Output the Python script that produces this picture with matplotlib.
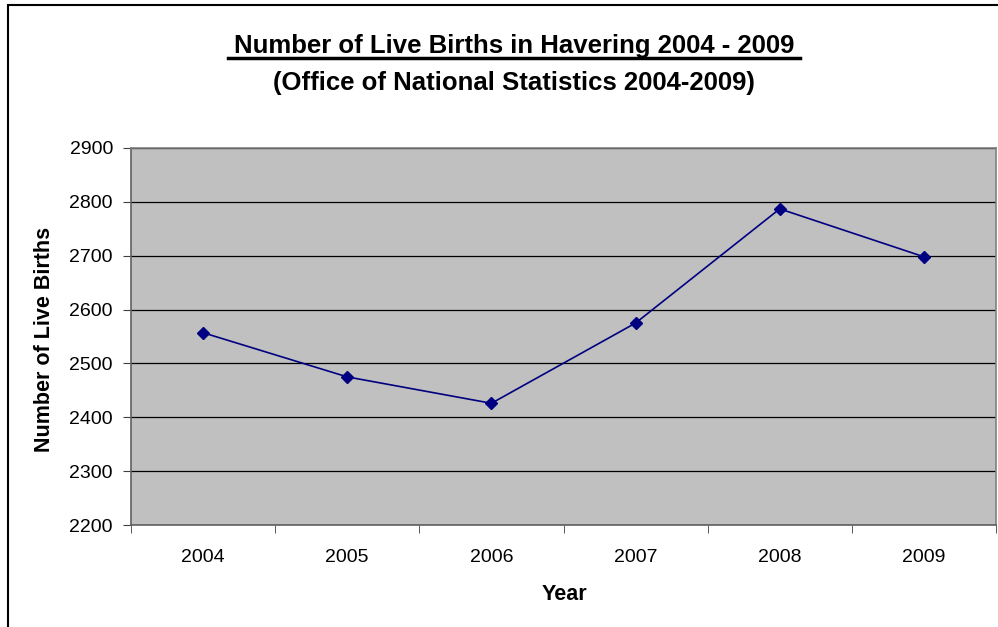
import numpy as np
import matplotlib.pyplot as plt
from matplotlib.patches import Rectangle

plt.rcParams['font.family'] = ['Liberation Sans', 'DejaVu Sans']

years = ['2004', '2005', '2006', '2007', '2008', '2009']
births = [2557, 2475, 2426, 2575, 2787, 2698]
yticks = [2200, 2300, 2400, 2500, 2600, 2700, 2800, 2900]

W, H = 998, 627
fig = plt.figure(figsize=(W / 100, H / 100), dpi=100)
ax = fig.add_axes([131 / W, 1 - 525 / H, 865 / W, 377 / H])

# outer chart frame
fig.patches.append(Rectangle((8 / W, -0.1), 1.2, 1 - 5 / H + 0.1, transform=fig.transFigure,
                             fill=False, edgecolor='black', linewidth=1.5))

ax.set_facecolor('#C0C0C0')
x = np.arange(len(years))
ax.plot(x, births, color='#000080', linewidth=1.2, marker='D', markersize=6.5, zorder=3)

ax.set_xlim(-0.5, len(years) - 0.5)
ax.set_ylim(2200, 2900)
ax.set_yticks(yticks)
ax.set_yticklabels([str(v) for v in yticks], fontsize=14)
ax.yaxis.grid(True, color='black', linewidth=0.9)
ax.set_axisbelow(True)

ax.set_xticks(x)
ax.set_xticklabels(years, fontsize=14)
ax.tick_params(axis='x', length=0, pad=17)
ax.set_xticks(np.arange(len(years) + 1) - 0.5, minor=True)
ax.tick_params(axis='x', which='minor', length=6, color='#404040', direction='out')
ax.tick_params(axis='y', length=6, color='#404040', pad=7)

for side in ['left', 'bottom']:
    ax.spines[side].set_color('#606060')
    ax.spines[side].set_linewidth(1.2)
for side in ['top', 'right']:
    ax.spines[side].set_color('#808080')
    ax.spines[side].set_linewidth(1.2)

ax.set_xlabel('Year', fontsize=15.5, fontweight='bold', va='center')
ax.xaxis.set_label_coords((564 - 131) / 865, -(594 - 525) / 377)
ax.set_ylabel('Number of Live Births', fontsize=15.5, fontweight='bold', va='center')
ax.yaxis.set_label_coords((45 - 131) / 865, (525 - 339) / 377)

fig.text(514 / W, 1 - 53.5 / H, 'Number of Live Births in Havering 2004 - 2009',
         ha='center', va='baseline', fontsize=18.5, fontweight='bold')
fig.text(514 / W, 1 - 90 / H, '(Office of National Statistics 2004-2009)',
         ha='center', va='baseline', fontsize=18.5, fontweight='bold')
# underline for the main title
fig.add_artist(plt.Line2D([228 / W, 800 / W], [1 - 58 / H, 1 - 58 / H],
                          color='black', linewidth=2.5))

fig.savefig('out.png', dpi=100)
